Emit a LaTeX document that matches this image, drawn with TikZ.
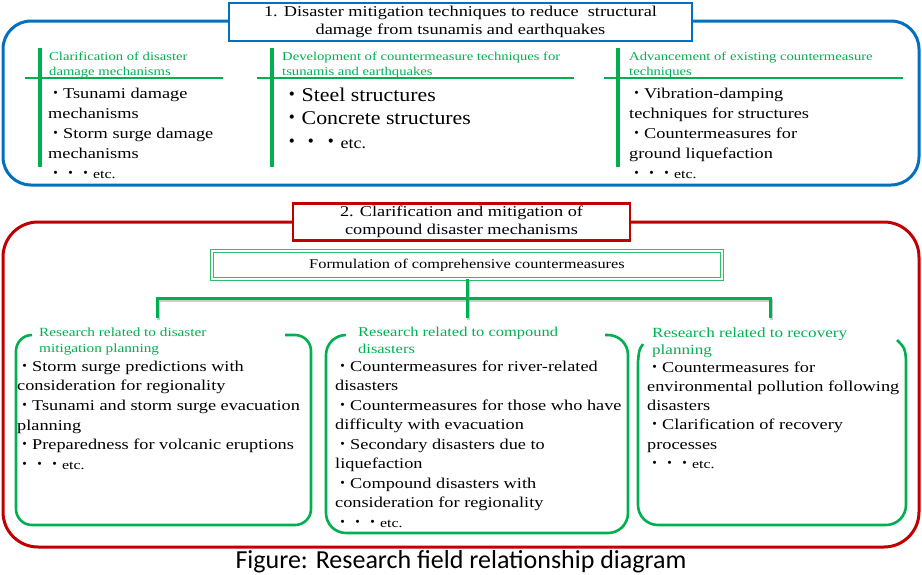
\documentclass[tikz,border=0pt]{standalone}
\usepackage{fontspec}
\setmainfont{Liberation Serif}[FakeStretch=1.22]
\newfontfamily\bigser{Liberation Serif}[FakeStretch=1.12]
\newfontfamily\capfont{Carlito}
\newfontfamily\jpfont{Noto Sans CJK JP}
\usetikzlibrary{calc}
\definecolor{dblue}{HTML}{0070C0}
\definecolor{dred}{HTML}{C00000}
\definecolor{dgreen}{HTML}{00B050}
\definecolor{lgreen}{HTML}{2DBE6C}
\newcommand\bul{{\jpfont ・}}
\newcommand\fsz[2]{\fontsize{#1}{#2}\selectfont}
\newcommand\st[1]{\rule{0pt}{#1pt}}
\newcommand\etcs[2]{\bul\bul\bul{\fontsize{#1}{#2}\selectfont etc.}}
\begin{document}
\begin{tikzpicture}[x=1pt,y=-1pt,
  grpbox/.style={draw, line width=3pt, rectangle, inner sep=0, fill=none},
  titlebox/.style={draw, line width=2.6pt, fill=white, align=center, inner sep=0, font=\fsz{15}{17.5}},
  formbox/.style={draw=lgreen, double=white, double distance=2pt, line width=0.9pt, inner sep=0, font=\fsz{13.4}{16}},
  txt/.style={anchor=north west, inner sep=0, align=left},
  body/.style={txt, font=\fsz{15}{20}},
  bodyb/.style={txt, font=\fsz{15}{19.6}},
  bigbody/.style={txt, font=\bigser\fsz{19.5}{23.5}},
  gtitle/.style={txt, text=dgreen, font=\fsz{12}{15.5}},
  vline/.style={draw=dgreen, line width=4pt},
  hline/.style={draw=dgreen, line width=2.2pt},
  bracket/.style={draw=dgreen, line width=2.6pt},
  conn/.style={draw=dgreen, line width=3pt,
    preaction={draw=black!45, line width=3pt, opacity=0.45, transform canvas={shift={(1.5pt,-2pt)}}}}
]
\useasboundingbox (0,0) rectangle (922,574);

% ---------- group 1 ----------
\node[grpbox, draw=dblue, rounded corners=28pt, minimum width=916pt, minimum height=164pt] (grp1) at (461,103) {};
\node[titlebox, draw=dblue, minimum width=463pt, minimum height=38pt] (t1) at (460.5,22)
  {1. Disaster mitigation techniques to reduce\ \ structural\\damage from tsunamis and earthquakes};

% column 1
\draw[vline] (40,48) -- (40,167);
\draw[hline] (25,78) -- (223,78);
\node[gtitle] (g11) at (49,48) {\st{12}Clarification of disaster\\damage mechanisms};
\node[body] (b11) at (48,83) {\st{15}\bul Tsunami damage\\mechanisms\\\bul Storm surge damage\\mechanisms\\\etcs{13}{20}};

% column 2
\draw[vline] (272,48) -- (272,167);
\draw[hline] (257,78) -- (574,78);
\node[gtitle] (g12) at (282,48) {\st{12}Development of countermeasure techniques for\\tsunamis and earthquakes};
\node[bigbody] (b12) at (282,81.5) {\st{19.5}\bul Steel structures\\\bul Concrete structures\\\etcs{16}{23.5}};

% column 3
\draw[vline] (618,48) -- (618,167);
\draw[hline] (604,78) -- (903,78);
\node[gtitle] (g13) at (629,48) {\st{12}Advancement of existing\ countermeasure\\techniques};
\node[body] (b13) at (629,83) {\st{15}\bul Vibration-damping\\techniques for structures\\\bul Countermeasures for\\ground liquefaction\\\etcs{13}{20}};

% ---------- group 2 ----------
\node[grpbox, draw=dred, rounded corners=35pt, minimum width=916pt, minimum height=325pt] (grp2) at (461,384.5) {};
\node[titlebox, draw=dred, minimum width=337pt, minimum height=37pt] (t2) at (461.5,222)
  {2. Clarification and mitigation of\\compound disaster mechanisms};

\node[formbox, minimum width=510pt, minimum height=28pt] (form) at (467,265)
  {Formulation of comprehensive countermeasures};

% bracket boxes
\draw[bracket, rounded corners=16pt] (285,335) -- (311,335) -- (311,525) -- (16,525) -- (16,335) -- (32,335);
\draw[bracket, rounded corners=20pt] (605,335) -- (628,335) -- (628,533) -- (326,533) -- (326,335) -- (346,335);
\draw[bracket] (643,344) .. controls (639,350) .. (638,362) -- (638,505)
  arc[start angle=180, end angle=90, radius=20] -- (886,525)
  arc[start angle=90, end angle=0, radius=20] -- (906,360) .. controls (905,348) .. (897,340);

\coordinate (c1) at (157,318);
\coordinate (c2) at (467,318);
\coordinate (c3) at (770,318);
\coordinate (hub) at ($(form.south)!0.5!(c2)$);
\draw[conn] (c1) |- (hub) -| (c3);
\draw[conn] (form.south) -- (c2);

% left box
\node[gtitle, font=\fsz{12.5}{16}] (g21) at (39,323.5) {\st{12.5}Research related to disaster\\mitigation planning};
\node[bodyb] (b21) at (17,356) {\st{15}\bul Storm surge predictions with\\consideration for regionality\\\bul Tsunami and storm surge evacuation\\planning\\\bul Preparedness for volcanic eruptions\\\etcs{13}{19.6}};

% middle box
\node[gtitle, font=\fsz{13.5}{17}] (g22) at (358,322.5) {\st{13.5}Research related to compound\\disasters};
\node[bodyb, font=\fsz{15}{19.5}] (b22) at (335,356) {\st{15}\bul Countermeasures for river-related\\disasters\\\bul Countermeasures for those who have\\difficulty with evacuation\\\bul Secondary disasters due to\\liquefaction\\\bul Compound disasters with\\consideration for regionality\\\etcs{13}{19.5}};

% right box
\node[gtitle, font=\fsz{14}{17}] (g23) at (652,323) {\st{14}Research related to recovery\\planning};
\node[bodyb, font=\fsz{15}{19.2}] (b23) at (647,357) {\st{15}\bul Countermeasures for\\environmental pollution following\\disasters\\\bul Clarification of recovery\\processes\\\etcs{13}{19.2}};

% caption
\node[anchor=base, inner sep=0, font=\capfont\fsz{26}{30}] (cap) at (461,568) {Figure: Research field relationship diagram};
\end{tikzpicture}
\end{document}
